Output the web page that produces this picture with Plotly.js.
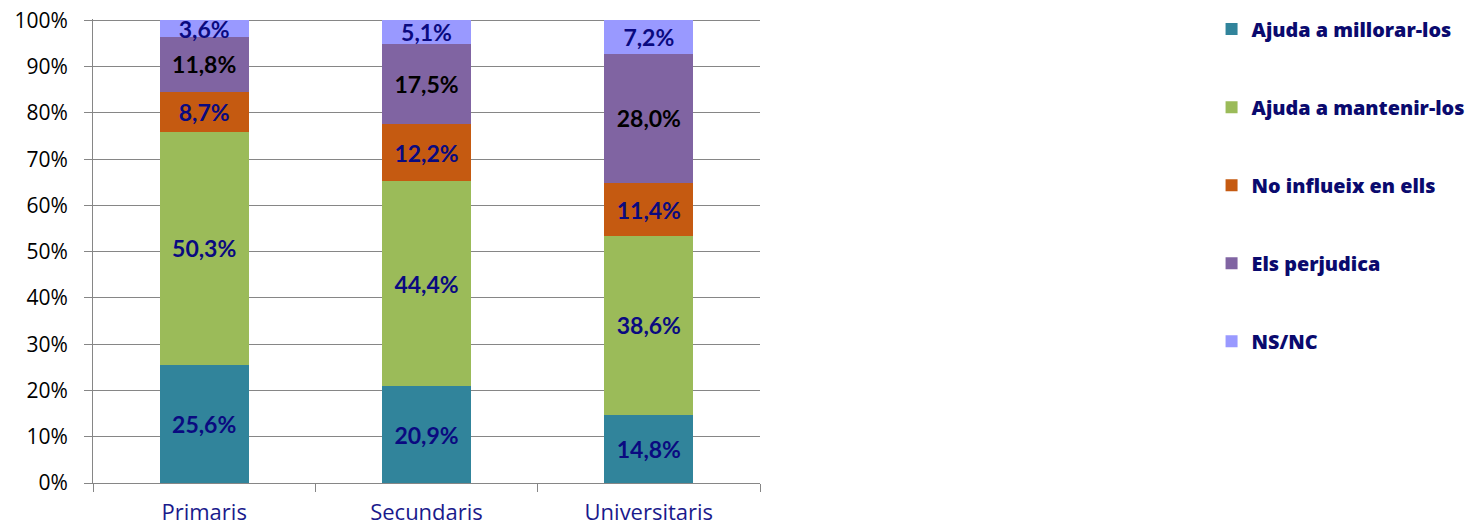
<!DOCTYPE html>
<html>
<head>
<meta charset="utf-8">
<script src="https://cdn.plot.ly/plotly-3.0.1.min.js"></script>
<style>html,body{margin:0;padding:0;background:#fff;}#chart{width:1475px;height:525px;}</style>
</head>
<body>
<div id="chart"></div>
<script>
const categories = ["Primaris", "Secundaris", "Universitaris"];
const seriesNames = ["Ajuda a millorar-los", "Ajuda a mantenir-los", "No influeix en ells", "Els perjudica", "NS/NC"];
const millorar = [25.6, 20.9, 14.8];
const mantenir = [50.3, 44.4, 38.6];
const noInflueix = [8.7, 12.2, 11.4];
const perjudica = [11.8, 17.5, 28.0];
const nsnc = [3.6, 5.1, 7.2];
const yTickVals = [0, 10, 20, 30, 40, 50, 60, 70, 80, 90, 100];
const yTickText = ['0%', '10%', '20%', '30%', '40%', '50%', '60%', '70%', '80%', '90%', '100%'];

const seriesValues = [millorar, mantenir, noInflueix, perjudica, nsnc];
const colors = ["#31849B", "#9BBB59", "#C55A11", "#8064A2", "#9999FF"];
const textColors = ["#0A0A80", "#0A0A80", "#0A0A80", "#000000", "#0A0A80"];

const fmt = v => v.toFixed(1).replace('.', ',') + '%';

const traces = seriesValues.map((vals, i) => ({
  type: 'bar',
  name: seriesNames[i],
  x: categories,
  y: vals,
  text: vals.map(fmt),
  textposition: 'inside',
  insidetextanchor: 'middle',
  textangle: 0,
  constraintext: 'none',
  cliponaxis: false,
  textfont: {family: 'Lato, sans-serif', size: 23, color: textColors[i], weight: 'bold'},
  marker: {color: colors[i], line: {width: 0}},
  legendgroup: 'g' + i,
  hoverinfo: 'none'
}));

const layout = {
  width: 1475, height: 525,
  margin: {l: 93, r: 715, t: 19, b: 42, autoexpand: false},
  paper_bgcolor: '#fff', plot_bgcolor: '#fff',
  barmode: 'stack',
  bargap: 0.6,
  showlegend: true,
  legend: {
    x: 1.677, xref: 'paper', y: 1.02, yanchor: 'top',
    traceorder: 'grouped',
    tracegroupgap: 49.3,
    maxheight: 500,
    font: {family: 'Open Sans, sans-serif', size: 19.8, color: '#0A0A6E', weight: 800}
  },
  xaxis: {
    type: 'category',
    showline: true, linecolor: '#868686', linewidth: 1,
    ticks: 'outside', ticklen: 8, tickcolor: '#868686', tickson: 'boundaries',
    ticklabelstandoff: 10,
    tickfont: {family: 'Open Sans, sans-serif', size: 22, color: '#1A1A8C'},
    showgrid: false, zeroline: false
  },
  yaxis: {
    range: [0, 100.3],
    tickvals: yTickVals,
    ticktext: yTickText,
    showline: true, linecolor: '#868686', linewidth: 1,
    ticks: 'outside', ticklen: 8, tickcolor: '#868686',
    ticklabelstandoff: 12,
    showgrid: true, gridcolor: '#868686', gridwidth: 1,
    zeroline: false,
    tickfont: {family: 'Open Sans, sans-serif', size: 21, color: '#000'}
  }
};
Plotly.newPlot('chart', traces, layout, {staticPlot: true});
</script>
</body>
</html>
